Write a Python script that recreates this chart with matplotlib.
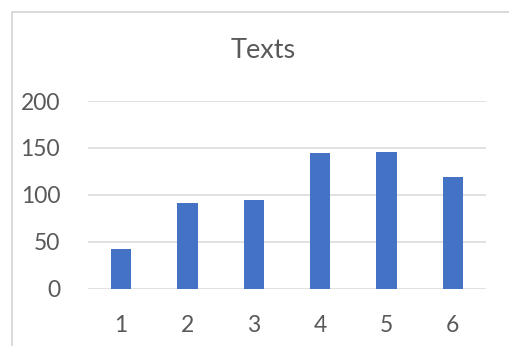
import matplotlib.pyplot as plt
from matplotlib.patches import Rectangle

# counts per category
categories = [1, 2, 3, 4, 5, 6]
texts = [42, 91, 95, 145, 146, 119]
yticks = [0, 50, 100, 150, 200]

bar_color = '#4472C4'
text_color = '#595959'
grid_color = '#D9D9D9'

plt.rcParams['font.family'] = ['Lato', 'DejaVu Sans']

fig = plt.figure(figsize=(5.09, 3.46), dpi=100)

# chart frame, only top and left edges fall inside the image
fig.patches.append(Rectangle((12 / 509, -0.1), 1.2, 1 - 12 / 346 + 0.1,
                             transform=fig.transFigure, fill=False,
                             edgecolor=grid_color, linewidth=1.4))

ax = fig.add_axes([88 / 509, 1 - 288.7 / 346, (486 - 88) / 509, (288.7 - 101) / 346])
ax.bar(categories, texts, width=0.31, color=bar_color, zorder=3)

ax.set_xlim(0.5, 6.5)
ax.set_ylim(0, 200)
ax.set_yticks(yticks)
ax.set_xticks(categories)
ax.grid(axis='y', color=grid_color, linewidth=1.1, zorder=0)
ax.set_axisbelow(True)
for s in ax.spines.values():
    s.set_visible(False)
ax.tick_params(axis='both', length=0, labelsize=16.5, colors=text_color)
ax.tick_params(axis='y', pad=20)
ax.tick_params(axis='x', pad=19)

fig.text(263 / 509, 1 - 51 / 346, 'Texts', ha='center', va='center',
         fontsize=19.5, color=text_color)

fig.savefig('out.png', dpi=100)
